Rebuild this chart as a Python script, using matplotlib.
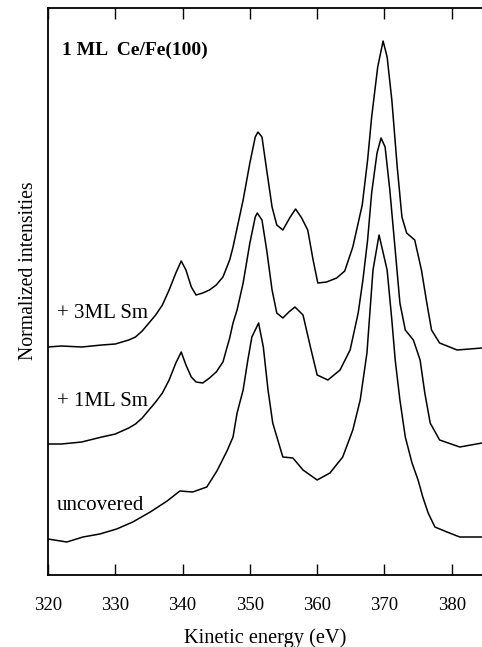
import matplotlib
import matplotlib.pyplot as plt

matplotlib.use("Agg")

# Kinetic energy (eV) and normalized intensity (arb. units, offset per spectrum)
energy_3ml = [320, 322, 325, 328, 330, 332, 333, 334, 335, 336, 337, 338, 339, 339.8,
              340.5, 341.3, 342, 343, 344, 345, 346, 347, 347.5, 348.2, 349, 350, 350.8,
              351.2, 351.8, 352.5, 353.3, 354, 354.9, 356, 356.8, 357.7, 358.6, 359.4,
              360.1, 361.4, 362.9, 364.1, 365.3, 366.7, 367.5, 368.1, 369, 369.8, 370.4,
              371.1, 371.9, 372.6, 373.3, 374.5, 375.5, 376.3, 377, 378.2, 380.8, 384.5]
int_3ml = [2.28, 2.29, 2.28, 2.30, 2.31, 2.35, 2.38, 2.44, 2.52, 2.60, 2.70, 2.85, 3.02, 3.14,
           3.05, 2.88, 2.80, 2.82, 2.85, 2.90, 2.98, 3.15, 3.28, 3.50, 3.75, 4.12, 4.38,
           4.43, 4.38, 4.05, 3.68, 3.50, 3.45, 3.58, 3.66, 3.57, 3.45, 3.15,
           2.92, 2.93, 2.97, 3.04, 3.28, 3.70, 4.15, 4.58, 5.08, 5.34, 5.18,
           4.75, 4.08, 3.58, 3.42, 3.35, 3.05, 2.72, 2.45, 2.32, 2.25, 2.27]

energy_1ml = [320, 322, 325, 328, 330, 332, 333, 334, 335, 336, 337, 338, 339, 339.8,
              340.5, 341.3, 342, 343, 344, 345, 346, 347, 347.5, 348.1, 349, 350, 350.8,
              351.1, 351.8, 352.5, 353.3, 354, 354.9, 355.8, 356.7, 357.9, 359, 360,
              361.6, 363.4, 364.9, 366.1, 366.8, 367.5, 368.1, 368.9, 369.5, 370.1, 370.8,
              371.6, 372.3, 373.1, 374.3, 375.3, 376, 376.8, 378.2, 381.2, 384.5]
int_1ml = [1.31, 1.31, 1.33, 1.38, 1.41, 1.47, 1.51, 1.57, 1.65, 1.73, 1.82, 1.95, 2.12, 2.23,
           2.10, 1.98, 1.93, 1.92, 1.97, 2.03, 2.13, 2.37, 2.52, 2.65, 2.92, 3.32, 3.58,
           3.62, 3.55, 3.25, 2.85, 2.62, 2.57, 2.63, 2.68, 2.60, 2.28, 2.00,
           1.95, 2.05, 2.25, 2.62, 2.95, 3.35, 3.82, 4.22, 4.37, 4.28, 3.85,
           3.25, 2.72, 2.45, 2.35, 2.15, 1.82, 1.52, 1.35, 1.28, 1.32]

energy_unc = [320, 322.8, 325.2, 327.7, 330.2, 332.6, 335.2, 337.7, 339.6, 341.5, 343.6,
              345.1, 346.6, 347.5, 348.1, 349, 349.7, 350.3, 351.3, 352, 352.7, 353.4,
              354.9, 356.4, 357.9, 360, 361.9, 363.8, 365.3, 366.4, 367.4, 368.3, 369.2,
              370.4, 371.1, 371.6, 372.3, 373.1, 374.1, 375, 375.7, 376.5, 377.5, 379.3,
              381.2, 384.5]
int_unc = [0.36, 0.33, 0.38, 0.41, 0.46, 0.53, 0.63, 0.74, 0.84, 0.83, 0.88,
           1.04, 1.24, 1.38, 1.62, 1.85, 2.15, 2.38, 2.52, 2.28, 1.85, 1.52,
           1.18, 1.17, 1.05, 0.95, 1.02, 1.18, 1.45, 1.75, 2.22, 3.05, 3.40,
           3.05, 2.55, 2.15, 1.75, 1.38, 1.12, 0.95, 0.78, 0.62, 0.48, 0.43,
           0.38, 0.38]

curve_labels = ["+ 3ML Sm", "+ 1ML Sm", "uncovered"]
label_y = [2.62, 1.73, 0.70]
x_ticks = [320, 330, 340, 350, 360, 370, 380]

plt.rcParams["font.family"] = ["Liberation Serif", "DejaVu Serif"]

fig = plt.figure(figsize=(4.82, 6.47), dpi=100)
ax = fig.add_axes([48 / 482, 1 - 575 / 647, 1 - 48 / 482, 567 / 647])

for e, y in [(energy_3ml, int_3ml), (energy_1ml, int_1ml), (energy_unc, int_unc)]:
    ax.plot(e, y, color="black", linewidth=1.1)

ax.set_xlim(320, 384.5)
ax.set_ylim(0, 5.67)
ax.set_xticks(x_ticks)
ax.set_yticks([])
ax.tick_params(axis="x", direction="in", length=8, width=1.0, top=True,
               labelsize=13.5, pad=16)
ax.spines["right"].set_visible(False)
for side in ["left", "bottom", "top"]:
    ax.spines[side].set_linewidth(1.3)

ax.set_xlabel("Kinetic energy (eV)", fontsize=14.7, labelpad=10)
ax.set_ylabel("Normalized intensities", fontsize=14.2)
ax.yaxis.set_label_coords(-0.023, 0.536)

ax.text(322.1, 5.25, "1 ML  Ce/Fe(100)", fontsize=14, fontweight="bold",
        va="center", ha="left")
for lab, ly in zip(curve_labels, label_y):
    ax.text(321.3, ly, lab, fontsize=15, va="center", ha="left")

fig.savefig("out.png", dpi=100)
plt.close(fig)
